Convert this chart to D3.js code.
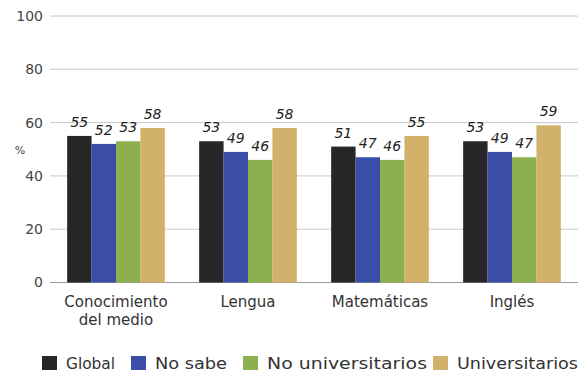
<!DOCTYPE html>
<html><head><meta charset="utf-8">
<script src="https://cdn.jsdelivr.net/npm/d3@7"></script>
<style>body{margin:0;background:#fff}svg{display:block}</style>
</head><body>
<svg id="c" width="584" height="375"></svg>
<script>
const categories = [["Conocimiento","del medio"],["Lengua"],["Matemáticas"],["Inglés"]];
const seriesNames = ["Global","No sabe","No universitarios","Universitarios"];
const colors = ["#272727","#3a4ea8","#8db04f","#d2b26b"];
const global = [55,53,51,53];
const noSabe = [52,49,47,49];
const noUniv = [53,46,46,47];
const univ = [58,58,55,59];
const yTicks = [0,20,40,60,80,100];
const series = [global,noSabe,noUniv,univ];

const svg = d3.select("#c");
const font = "'DejaVu Sans', sans-serif";
const x0 = d3.scaleBand().domain(d3.range(categories.length)).range([50,578]).paddingInner(0.26).paddingOuter(0.13);
const x1 = d3.scaleBand().domain(d3.range(series.length)).range([0,x0.bandwidth()]);
const y = d3.scaleLinear().domain([0,100]).range([282.5,16]);

// gridlines
svg.append("g").selectAll("line").data(yTicks).join("line")
  .attr("x1",50).attr("x2",578).attr("y1",d=>y(d)).attr("y2",d=>y(d))
  .attr("stroke",d=>d===0?"#999":"#c8c8c8").attr("stroke-width",1);

// y axis labels
const yAxis = d3.axisLeft(y).tickValues(yTicks).tickSize(0).tickPadding(7);
const gy = svg.append("g").attr("transform","translate(50,0)").call(yAxis);
gy.select(".domain").remove();
gy.selectAll("text").attr("font-family",font).attr("font-size",14).attr("fill","#444");
svg.append("text").attr("x",20).attr("y",154).attr("text-anchor","middle")
  .attr("font-family",font).attr("font-size",11).attr("fill","#444").text("%");

// bars
const groups = svg.append("g").selectAll("g").data(categories).join("g")
  .attr("transform",(d,i)=>`translate(${x0(i)},0)`);
groups.selectAll("rect").data((d,i)=>series.map((s,j)=>({j,v:s[i]}))).join("rect")
  .attr("x",d=>x1(d.j)).attr("width",x1.bandwidth())
  .attr("y",d=>y(d.v)).attr("height",d=>y(0)-y(d.v))
  .attr("fill",d=>colors[d.j]);
groups.selectAll("text.v").data((d,i)=>series.map((s,j)=>({j,v:s[i]}))).join("text")
  .attr("class","v")
  .attr("x",d=>x1(d.j)+x1.bandwidth()/2).attr("y",d=>y(d.v)-9)
  .attr("text-anchor","middle").attr("font-family",font).attr("font-style","italic")
  .attr("font-size",14).attr("fill","#222").text(d=>d.v);

// category labels
const xl = svg.append("g").selectAll("text").data(categories).join("text")
  .attr("x",(d,i)=>x0(i)+x0.bandwidth()/2).attr("y",307)
  .attr("text-anchor","middle").attr("font-family",font).attr("font-size",15).attr("fill","#333");
xl.selectAll("tspan").data(d=>d).join("tspan")
  .attr("x",function(){return this.parentNode.getAttribute("x");})
  .attr("dy",(d,i)=>i===0?0:18).text(d=>d);

// legend
const legX = [42,131,243,433];
const legW = [49,72,160,121];
const leg = svg.append("g").selectAll("g").data(seriesNames).join("g")
  .attr("transform",(d,i)=>`translate(${legX[i]},356)`);
leg.append("rect").attr("width",15).attr("height",14).attr("fill",(d,i)=>colors[i]);
leg.append("text").attr("x",24).attr("y",13).attr("font-family",font).attr("font-size",16)
  .attr("textLength",(d,i)=>legW[i]).attr("lengthAdjust","spacingAndGlyphs")
  .attr("fill","#333").text(d=>d);
</script>
</body></html>
